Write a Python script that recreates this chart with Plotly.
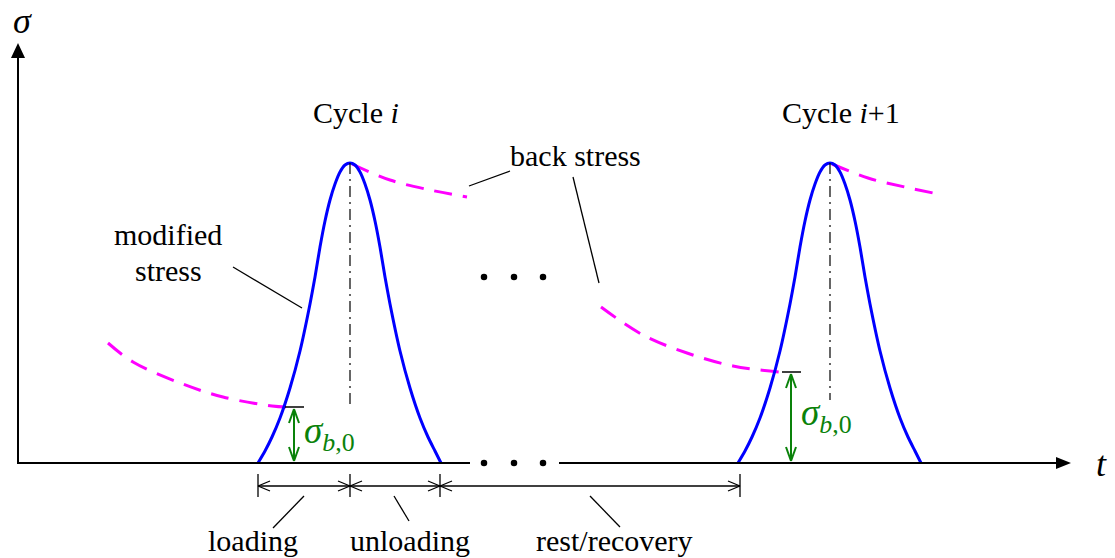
import plotly.graph_objects as go

# ---- axes extents (t along the horizontal, sigma along the vertical) ----
T_ORIGIN = 18          # where the sigma axis stands
T_AXIS_END = 1071      # tip of the t arrow
SIGMA_AXIS_END = 420   # tip of the sigma arrow
AXIS_GAP = [470, 559]  # break in the t axis for the ellipsis

# ---- one load pulse: offset from the peak time and modified stress ----
pulse_dt = [-92, -85, -78, -70, -60, -50, -40, -35, -30, -25, -20, -15, -10, -5, 0,
            5, 10, 15, 20, 25, 30, 35, 40, 50, 60, 70, 78, 85, 91]
pulse_sigma = [0, 12, 26, 45, 75, 112, 159, 186, 216, 242, 263, 279, 291, 298, 300,
               298, 291, 279, 263, 242, 216, 186, 159, 112, 75, 45, 26, 12, 0]

cycle_peak_t = [350, 830]
cycle_labels = ["Cycle <i>i</i>", "Cycle <i>i</i>+1"]
cycle_label_t = [356, 841]
cycle_label_sigma = 351

# ---- back stress decay curves ----
back_left_t = [108, 133, 180, 223, 272, 287]
back_left_s = [120, 101, 80, 66, 57, 56]
back_top1_t = [352, 390, 430, 467]
back_top1_s = [299, 283, 273, 266]
back_mid_t = [601, 643, 687, 733, 779]
back_mid_s = [156, 128, 110, 97, 91]
back_top2_t = [832, 868, 905, 943]
back_top2_s = [299, 285, 276, 268]

# ---- initial back stress at each cycle ----
sigma_b0_t = [294, 791]
sigma_b0 = [56, 91]

# ---- phase boundaries along t ----
phase_t = [258, 350, 440, 740]
phase_labels = ["loading", "unloading", "rest/recovery"]
phase_label_t = [253, 410, 614]
DIM_SIGMA = -23

FONT = "Liberation Serif, Times New Roman, serif"
BLUE = "#0000FF"
MAGENTA = "#FF00FF"
GREEN = "#0A820A"
BLACK = "#000000"

fig = go.Figure()
shapes = []
annotations = []


def seg(x0, y0, x1, y1, color=BLACK, width=1.3, dash="solid"):
    shapes.append(dict(type="line", x0=x0, y0=y0, x1=x1, y1=y1, xref="x", yref="y",
                       line=dict(color=color, width=width, dash=dash)))


def open_head(xt, yt, dx, dy, color, width, length, half):
    # open V arrow head pointing along (dx, dy) with its tip at (xt, yt)
    nx, ny = -dy, dx
    bx, by = xt - dx * length, yt - dy * length
    seg(bx + nx * half, by + ny * half, xt, yt, color, width)
    seg(bx - nx * half, by - ny * half, xt, yt, color, width)


# ---- coordinate axes ----
seg(T_ORIGIN - 1, 0, AXIS_GAP[0], 0, width=2)
seg(AXIS_GAP[1], 0, T_AXIS_END - 13, 0, width=2)
seg(T_ORIGIN, 0, T_ORIGIN, SIGMA_AXIS_END - 13, width=2)
shapes.append(dict(type="path", xref="x", yref="y", fillcolor=BLACK, line=dict(width=0),
                   path=f"M {T_AXIS_END} 0 L {T_AXIS_END - 15} 6 L {T_AXIS_END - 15} -6 Z"))
shapes.append(dict(type="path", xref="x", yref="y", fillcolor=BLACK, line=dict(width=0),
                   path=f"M {T_ORIGIN} {SIGMA_AXIS_END} L {T_ORIGIN - 7} {SIGMA_AXIS_END - 15} "
                        f"L {T_ORIGIN + 7} {SIGMA_AXIS_END - 15} Z"))

# ---- peak centre lines ----
for tp, sb in zip(cycle_peak_t, [56, 63]):
    seg(tp, 300, tp, sb, width=1.2, dash="11px,5px,2px,5px")

# ---- back stress curves ----
for bt, bs in [(back_left_t, back_left_s), (back_top1_t, back_top1_s),
               (back_mid_t, back_mid_s), (back_top2_t, back_top2_s)]:
    fig.add_trace(go.Scatter(x=bt, y=bs, mode="lines", line_shape="spline",
                             line=dict(color=MAGENTA, width=3, dash="18px,11px"),
                             hoverinfo="skip", showlegend=False))

# ---- modified stress pulses ----
for tp in cycle_peak_t:
    fig.add_trace(go.Scatter(x=[tp + d for d in pulse_dt], y=pulse_sigma, mode="lines",
                             line_shape="spline", line=dict(color=BLUE, width=3, smoothing=0.6),
                             hoverinfo="skip", showlegend=False))

# ---- sigma_b,0 markers ----
for tb, sb in zip(sigma_b0_t, sigma_b0):
    seg(tb - 9, sb, tb + 10, sb, width=1.5)
    seg(tb, 2, tb, sb - 2, GREEN, 2)
    open_head(tb, sb - 2, 0, 1, GREEN, 2, 14, 5)
    open_head(tb, 2, 0, -1, GREEN, 2, 14, 5)
    annotations.append(dict(x=tb + 8, y=sb / 2 + 2, xref="x", yref="y", showarrow=False,
                            xanchor="left", yanchor="middle",
                            text="<i>σ<sub>b</sub></i><sub>,0</sub>",
                            font=dict(family=FONT, size=37, color=GREEN)))

# ---- ellipsis dots ----
dots_t = [484, 514, 543]
fig.add_trace(go.Scatter(x=dots_t * 2, y=[186] * 3 + [0] * 3, mode="markers",
                         marker=dict(color=BLACK, size=6.5), hoverinfo="skip", showlegend=False))

# ---- phase dimension line ----
seg(phase_t[0], DIM_SIGMA, phase_t[-1], DIM_SIGMA, width=1.3)
for i, tb in enumerate(phase_t):
    seg(tb, DIM_SIGMA + 12, tb, DIM_SIGMA - 11, width=1.3)
    if i > 0:
        open_head(tb, DIM_SIGMA, 1, 0, BLACK, 1.3, 12, 5)
    if i < len(phase_t) - 1:
        open_head(tb, DIM_SIGMA, -1, 0, BLACK, 1.3, 12, 5)

# ---- leader lines ----
seg(304, -33, 273, -65)
seg(394, -33, 409, -58)
seg(590, -33, 620, -64)
seg(233, 196, 302, 155)
seg(469, 277, 510, 292)
seg(573, 286, 599, 180)


def label(x, y, text, size=30, anchor="center"):
    annotations.append(dict(x=x, y=y, xref="x", yref="y", showarrow=False, text=text,
                            xanchor=anchor, yanchor="middle",
                            font=dict(family=FONT, size=size, color=BLACK)))


for tx, name in zip(phase_label_t, phase_labels):
    label(tx, -77, name)
for tx, name in zip(cycle_label_t, cycle_labels):
    label(tx, cycle_label_sigma, name)
label(575, 308, "back stress")
label(168, 229, "modified")
label(168, 193, "stress")
label(22, 442, "<i>σ</i>", size=36)
label(1101, -1, "<i>t</i>", size=36)

fig.update_layout(
    width=1115, height=558,
    margin=dict(l=0, r=0, t=0, b=0),
    paper_bgcolor="white", plot_bgcolor="white",
    xaxis=dict(range=[0, 1115], visible=False, fixedrange=True),
    yaxis=dict(range=[-95, 463], visible=False, fixedrange=True),
    shapes=shapes, annotations=annotations,
)

fig.write_html("out.html")
